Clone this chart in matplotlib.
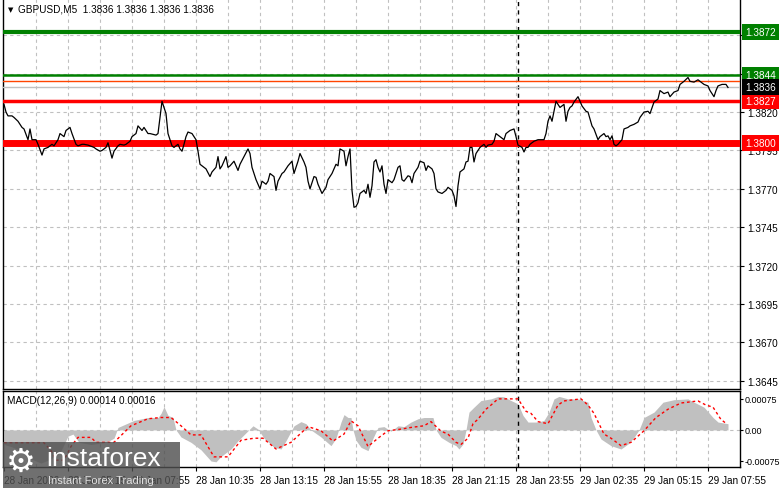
import numpy as np
import matplotlib
matplotlib.use('Agg')
from matplotlib import pyplot as plt
from matplotlib import transforms
from matplotlib.patches import Rectangle

# GBPUSD M5 closes: (bar, price)
price_pts = [
    (0, 1.3825), (1, 1.3820), (2, 1.38175), (4, 1.38175), (5, 1.38165), (7, 1.3814), (9, 1.3810),
    (10, 1.3809), (12, 1.3802), (13, 1.3809), (14, 1.3802), (16, 1.3802), (17, 1.3799), (19, 1.3792),
    (20, 1.3796), (22, 1.3797), (24, 1.3799), (25, 1.3798), (27, 1.3802), (28, 1.3806), (30, 1.3804),
    (31, 1.3808), (33, 1.3810), (34, 1.3806), (36, 1.3799), (37, 1.3798), (39, 1.3799), (40, 1.3799),
    (42, 1.37985), (43, 1.3798), (45, 1.3797), (46, 1.3796), (48, 1.37945), (49, 1.3795), (51, 1.3797),
    (52, 1.3800), (54, 1.3790), (55, 1.37945), (57, 1.3798), (58, 1.3799), (60, 1.37985), (61, 1.3799),
    (63, 1.3801), (64, 1.3804), (66, 1.3806), (67, 1.3811), (69, 1.3808), (70, 1.3810), (72, 1.3806),
    (73, 1.3806), (76, 1.3805), (77, 1.3806), (79, 1.3827), (81, 1.3819), (82, 1.3806), (84, 1.3798),
    (85, 1.3797), (87, 1.3799), (88, 1.3796), (89, 1.37945), (90, 1.3799), (91, 1.3804), (92, 1.3807),
    (94, 1.3806), (96, 1.3802), (97, 1.37945), (98, 1.3786), (99, 1.3785), (101, 1.3783), (103, 1.3778),
    (104, 1.3781), (106, 1.3784), (107, 1.3791), (108, 1.3783), (109, 1.3785), (111, 1.3791), (112, 1.3784),
    (113, 1.3785), (115, 1.3788), (117, 1.3782), (118, 1.3786), (120, 1.3791), (122, 1.3796), (123, 1.3793),
    (124, 1.3784), (126, 1.3776), (127, 1.3773), (128, 1.3770), (129, 1.3775), (131, 1.3773), (132, 1.3775),
    (133, 1.3780), (135, 1.3778), (136, 1.3769), (137, 1.3775), (139, 1.3780), (140, 1.3781), (142, 1.3785),
    (144, 1.3788), (145, 1.3780), (147, 1.3788), (148, 1.3793), (150, 1.37875), (151, 1.3784), (152, 1.3775),
    (153, 1.3770), (155, 1.3778), (156, 1.37775), (157, 1.3773), (159, 1.3767), (161, 1.3771), (162, 1.3776),
    (164, 1.3780), (166, 1.3786), (167, 1.3785), (168, 1.3796), (170, 1.37945), (171, 1.3785), (172, 1.3791),
    (173, 1.3796), (174, 1.3769), (175, 1.3758), (176, 1.37585), (177, 1.3761), (178, 1.3767), (180, 1.3769),
    (181, 1.3767), (182, 1.3773), (183, 1.37645), (184, 1.3772), (185, 1.37875), (186, 1.3789), (187, 1.3784),
    (188, 1.3781), (189, 1.3785), (190, 1.3773), (191, 1.3767), (192, 1.3776), (194, 1.3774), (195, 1.3776),
    (197, 1.3784), (198, 1.3785), (199, 1.3776), (200, 1.3775), (202, 1.37785), (203, 1.3778), (204, 1.3774),
    (205, 1.3780), (207, 1.3784), (208, 1.3788), (210, 1.3787), (211, 1.3782), (212, 1.3785), (214, 1.3783),
    (215, 1.3780), (216, 1.3770), (217, 1.3768), (219, 1.3767), (221, 1.3769), (222, 1.3771), (224, 1.3769),
    (225, 1.37655), (226, 1.37585), (227, 1.3772), (228, 1.3781), (230, 1.3783), (231, 1.37875), (232, 1.3788),
    (233, 1.3797), (234, 1.3797), (235, 1.37875), (236, 1.3793), (238, 1.3797), (240, 1.3799), (241, 1.3797),
    (242, 1.37985), (244, 1.3799), (245, 1.3801), (246, 1.3806), (248, 1.3804), (250, 1.3802), (251, 1.3806),
    (253, 1.3808), (255, 1.3809), (256, 1.3804), (257, 1.37985), (259, 1.3797), (260, 1.3794), (261, 1.3797),
    (262, 1.3797), (263, 1.3799), (265, 1.3801), (267, 1.3802), (269, 1.3802), (270, 1.3802), (271, 1.3806),
    (272, 1.3814), (273, 1.38175), (274, 1.3814), (275, 1.38205), (276, 1.3827), (277, 1.3825), (278, 1.3823),
    (280, 1.3825), (281, 1.3814), (282, 1.38205), (283, 1.3823), (284, 1.3824), (285, 1.38265), (287, 1.3830),
    (288, 1.3827), (289, 1.3824), (291, 1.38205), (292, 1.3820), (294, 1.3811), (295, 1.3809), (297, 1.3802),
    (298, 1.3804), (300, 1.3806), (301, 1.3804), (302, 1.38045), (303, 1.3802), (304, 1.38045), (305, 1.3799),
    (306, 1.3798), (307, 1.3799), (309, 1.3802), (310, 1.3809), (312, 1.3810), (313, 1.3811), (315, 1.3812),
    (317, 1.38135), (318, 1.38165), (320, 1.3820), (322, 1.38205), (323, 1.3819), (325, 1.38265), (327, 1.38285),
    (328, 1.3834), (330, 1.3832), (332, 1.3833), (333, 1.3830), (335, 1.3833), (337, 1.3834), (338, 1.3838),
    (340, 1.3840), (342, 1.38425), (343, 1.3840), (345, 1.38395), (347, 1.3841), (348, 1.3840), (350, 1.3838),
    (352, 1.3837), (353, 1.3834), (355, 1.3830), (356, 1.3834), (357, 1.3837), (359, 1.3838), (361, 1.3838),
    (362, 1.3836),
]

# MACD(12,26,9) main values (histogram)
macd_pts = [
    (0, -0.00035), (3.5, -0.0004), (8.5, -0.0005), (13.5, -0.0007), (18.5, -0.0008), (23.5, -0.0007),
    (28.5, -0.0005), (32, -0.00015), (34.5, -0.0001), (37.5, -0.0003), (43.5, -0.00035), (51, -0.0003),
    (55, -0.0002), (57, 0.00006), (65, 0.00023), (72, 0.0003), (77, 0.0003), (78.5, 0.0004), (80, 0.00056),
    (82, 0.00035), (84.5, 0.0003), (86, 0.0), (88.5, -0.00017), (93.5, -0.0003), (98.5, -0.00048),
    (103.5, -0.00075), (106, -0.00077), (108.5, -0.00064), (113.5, -0.00046), (117, -0.00026), (122, -0.00002),
    (124.5, 0.0001), (127, 0.00002), (130, -0.0002), (135, -0.00042), (138.5, -0.00046), (141, -0.00026),
    (145, 0.0001), (148.5, 0.0002), (151, 0.00015), (153.5, 0.0), (158.5, -0.00017), (163.5, -0.00038),
    (166, -0.0002), (168.5, 0.00019), (170, 0.00037), (172, 0.0003), (173.5, 0.0003), (174.5, 0.0),
    (176, -0.00025), (178.5, -0.00042), (182, -0.0005), (184.5, -0.0002), (187, 0.00006), (190, 0.00008),
    (193.5, -0.00003), (197, 0.0001), (200, 0.00008), (203.5, 0.00019), (207, 0.00027), (210, 0.0003),
    (214.5, 0.0003), (216, 0.0), (218.5, -0.00018), (222.5, -0.0003), (226, -0.00038), (227.5, -0.00046),
    (229.5, -0.00034), (231, 0.0), (232.5, 0.00043), (235, 0.00055), (238.5, 0.00071), (243.5, 0.00075),
    (247, 0.00081), (250, 0.0008), (253.5, 0.00071), (257, 0.00063), (259.5, 0.00035), (262, 0.00019),
    (267, 0.00019), (270, 0.00023), (272.5, 0.00043), (275, 0.00075), (277.5, 0.00081), (282, 0.00075),
    (287, 0.00075), (292, 0.00067), (293.5, 0.0003), (296, 0.0), (298.5, -0.00022), (303.5, -0.00038),
    (308.5, -0.00046), (312, -0.00034), (315, -0.00018), (317.5, 0.0), (320, 0.0003), (325, 0.00043),
    (329.5, 0.00067), (335, 0.00073), (342, 0.00075), (345, 0.00067), (350, 0.00055), (354.5, 0.0003),
    (357, 0.00019), (362, 0.00015),
]

# signal line (red dotted)
signal_pts = [
    (0, -0.00031), (20, -0.00031), (23.5, -0.0005), (26, -0.00073), (30, -0.00073), (33.5, -0.0004),
    (37, -0.00018), (43.5, -0.00018), (46, -0.0003), (55, -0.0003), (63.5, 0.0001), (72, 0.00027),
    (78.5, 0.0003), (83.5, 0.0003), (88.5, 0.0001), (93.5, -0.00012), (98.5, -0.00012), (105, -0.00065),
    (112, -0.00065), (118.5, -0.00025), (125, -0.0002), (129.5, -0.0002), (136, -0.00046), (143.5, -0.0003),
    (152, 0.00008), (158.5, -0.00002), (164.5, -0.00027), (170, -0.0001), (173.5, 0.00022), (177, 0.0001),
    (182, -0.0004), (187, -0.0002), (192, -0.00002), (198.5, 0.00002), (203.5, 0.00006), (210, 0.0001),
    (213.5, 0.0002), (218.5, -0.00003), (222, -0.0001), (226, -0.0003), (228.5, -0.00035), (232, -0.0002),
    (234.5, 0.00015), (237, 0.00026), (241, 0.0005), (243.5, 0.0006), (247, 0.00075), (257, 0.00075),
    (261, 0.00045), (263.5, 0.0004), (267, 0.0002), (272, 0.00015), (277, 0.0006), (280, 0.0007),
    (288.5, 0.00075), (292, 0.0006), (295, 0.0004), (300, -0.0001), (303.5, -0.0002), (308.5, -0.00038),
    (313.5, -0.0003), (320, -0.00002), (326, 0.0003), (332, 0.0005), (338.5, 0.00065), (347, 0.0007),
    (351, 0.0006), (354.5, 0.00055), (358.5, 0.00025), (361, 0.00016),
]

# horizontal levels: price, label, colour, width, label layer
levels = [
    (1.3872, '1.3872', '#008000', 3.0, 11),
    (1.3844, '1.3844', '#008000', 1.8, 12),
    (1.3840, '1.3840', '#ff4500', 1.0, 10),
    (1.3836, '1.3836', '#c0c0c0', 1.0, 13),
    (1.3827, '1.3827', '#ff0000', 2.5, 11),
    (1.3800, '1.3800', '#ff0000', 5.0, 11),
]
label_box = {'1.3836': '#000000'}

price_ticks = [1.3645, 1.3670, 1.3695, 1.3720, 1.3745, 1.3770, 1.3795, 1.3820, 1.3845, 1.3870]
price_tick_labels = ['1.3645', '1.3670', '1.3695', '1.3720', '1.3745', '1.3770', '1.3795', '1.3820', '', '']
macd_ticks = [-0.00075, 0, 0.00075]
macd_tick_labels = ['-0.00075', '0.00', '0.00075']
time_ticks = [0, 32, 64, 96, 128, 160, 192, 224, 256, 288, 320, 352]
time_labels = ['28 Jan 2026', '28 Jan 05:15', '28 Jan 07:55', '28 Jan 10:35', '28 Jan 13:15',
               '28 Jan 15:55', '28 Jan 18:35', '28 Jan 21:15', '28 Jan 23:55', '29 Jan 02:35',
               '29 Jan 05:15', '29 Jan 07:55']
day_sep = 257

W, H = 781, 489
plt.rcParams['font.family'] = ['Liberation Sans', 'DejaVu Sans']
fig = plt.figure(figsize=(W / 100, H / 100), dpi=100)
fs = 7.2
grid_kw = dict(color='#c0c0c0', lw=0.8, ls=(0, (3, 3)))

ax = fig.add_axes([3 / W, 1 - 390 / H, 737 / W, 390 / H])
ax2 = fig.add_axes([3 / W, 1 - 468 / H, 737 / W, 76 / H])

# main price panel
bx = [p[0] for p in price_pts]
by = [p[1] for p in price_pts]
ax.plot(bx, by, color='black', lw=0.9, zorder=5)
for price, lab, col, lw, z in levels:
    ax.axhline(price, color=col, lw=lw, zorder=4)
ax.set_xlim(-0.5, 368)
ax.set_ylim(1.36397, 1.38936)
ax.yaxis.tick_right()
ax.set_yticks(price_ticks)
ax.set_yticklabels(price_tick_labels)
ax.tick_params(axis='y', direction='out', length=3, width=0.8, labelsize=fs, pad=2)
ax.tick_params(axis='x', bottom=False, labelbottom=False)
for t in price_ticks:
    ax.axhline(t, zorder=1, **grid_kw)
for t in np.arange(16, 368, 16):
    ax.axvline(t, zorder=1, **grid_kw)
    ax2.axvline(t, zorder=1, **grid_kw)
ax.axvline(day_sep, color='black', lw=1, ls=(0, (3, 3)), zorder=3)
ax.spines['top'].set_visible(False)
for s in ['left', 'right', 'bottom']:
    ax.spines[s].set_linewidth(1)

trans = transforms.blended_transform_factory(ax.transAxes, ax.transData)
for price, lab, col, lw, z in levels:
    fc = label_box.get(lab, col)
    ax.text(1 + 5 / 737, price, lab, transform=trans, ha='left', va='center', fontsize=fs,
            color='white', zorder=z, clip_on=False,
            bbox=dict(boxstyle='square,pad=0.3', fc=fc, ec='none'))

# MACD panel
mx = [p[0] for p in macd_pts]
my = [p[1] for p in macd_pts]
ax2.fill_between(mx, 0, my, color='#c0c0c0', lw=0, zorder=2)
sx = [p[0] for p in signal_pts]
sy = [p[1] for p in signal_pts]
ax2.plot(sx, sy, color='red', lw=1, ls=(0, (2, 2)), zorder=4)
ax2.axhline(0, zorder=1, **grid_kw)
ax2.axvline(day_sep, color='black', lw=1, ls=(0, (3, 3)), zorder=3)
ax2.set_xlim(-0.5, 368)
ax2.set_ylim(-0.000895, 0.00094)
ax2.yaxis.tick_right()
ax2.set_yticks(macd_ticks)
ax2.set_yticklabels(macd_tick_labels)
ax2.tick_params(axis='y', direction='out', length=2, width=0.8, labelsize=6.5, pad=1)
ax2.set_xticks(time_ticks)
ax2.set_xticklabels(time_labels)
ax2.tick_params(axis='x', direction='out', length=3, width=0.8, labelsize=fs, pad=3)
for lab in ax2.get_xticklabels():
    lab.set_ha('left')
for s in ax2.spines.values():
    s.set_linewidth(1)
ax2.text(4 / 737, 0.88, 'MACD(12,26,9) 0.00014 0.00016', transform=ax2.transAxes,
         fontsize=fs, va='center', ha='left')

# header
fig.text(8 / W, 1 - 10 / H, '\u25bc', fontsize=5, va='center', ha='left', family='DejaVu Sans')
fig.text(18 / W, 1 - 10 / H, 'GBPUSD,M5  1.3836 1.3836 1.3836 1.3836', fontsize=fs,
         va='center', ha='left')

# watermark logo
fig.patches.append(Rectangle((3 / W, 0), 177 / W, 46 / H, transform=fig.transFigure,
                             fc='#505050', alpha=0.82, ec='none', zorder=20))
fig.text(6 / W, 1 - 462 / H, '\u2699', fontsize=24, color='white', va='center', ha='left',
         family='DejaVu Sans', zorder=21)
fig.text(46 / W, 1 - 459 / H, 'instaforex', fontsize=19, color='white', va='center', ha='left', zorder=21)
fig.text(48 / W, 1 - 481 / H, 'Instant Forex Trading', fontsize=8, color='#e0e0e0',
         va='center', ha='left', zorder=21)

fig.savefig('out.png', dpi=100, facecolor='white')
